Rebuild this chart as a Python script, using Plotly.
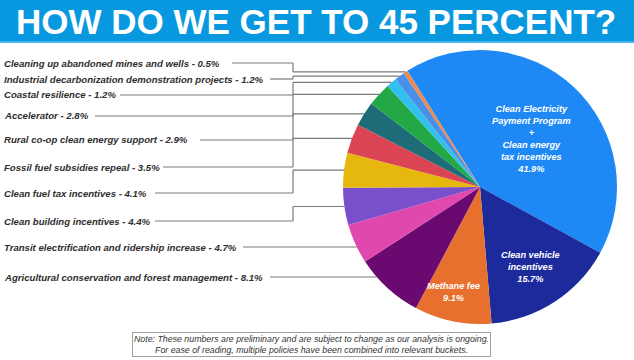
import math
import plotly.graph_objects as go

W, H = 634, 360

# ---------------- data ----------------
labels = [
    "Clean Electricity Payment Program + Clean energy tax incentives",
    "Clean vehicle incentives",
    "Methane fee",
    "Agricultural conservation and forest management",
    "Transit electrification and ridership increase",
    "Clean building incentives",
    "Clean fuel tax incentives",
    "Fossil fuel subsidies repeal",
    "Rural co-op clean energy support",
    "Accelerator",
    "Coastal resilience",
    "Industrial decarbonization demonstration projects",
    "Cleaning up abandoned mines and wells",
]
values = [41.9, 15.7, 9.1, 8.1, 4.7, 4.4, 4.1, 3.5, 2.9, 2.8, 1.2, 1.2, 0.5]
inside_labels = {
    0: "Clean Electricity<br>Payment Program<br>+<br>Clean energy<br>tax incentives<br>41.9%",
    1: "Clean vehicle<br>incentives<br>15.7%",
    2: "Methane fee<br>9.1%",
}

# ---------------- styles ----------------
colors = ["#1E89F4", "#1C2A9C", "#E8702F", "#6A0A70", "#E048AD", "#7A4FCB",
          "#E6B70C", "#DB4453", "#1D6C77", "#22A845", "#32C0F0", "#4A8FE8", "#E98B50"]
FONT = "Liberation Sans, Arial, sans-serif"

# pie geometry in pixels
CX, CY, R = 480, 187, 137
ROT = -32

def px(x):
    return x / W

def py(y):
    return 1 - y / H

# left label layout (top -> bottom, slice indices 12..3)
left_idx = [12, 11, 10, 9, 8, 7, 6, 5, 4, 3]
label_y = [63, 79, 95, 116, 140, 167, 193, 221, 247, 277]
line_x0 = [232, 270, 120, 95, 200, 163, 155, 155, 243, 270]
ELBOW_X = 293
# inside label positions (pixels)
inside_pos = {0: (531, 139), 1: (530, 267), 2: (453, 292)}

fig = go.Figure()
fig.add_trace(go.Pie(
    labels=labels, values=values, sort=False, direction="clockwise",
    rotation=ROT, textinfo="none", hoverinfo="label+value",
    marker=dict(colors=colors, line=dict(width=0)),
    domain=dict(x=[px(CX - R), px(CX + R)], y=[py(CY + R), py(CY - R)]),
    showlegend=False,
))

shapes = []
annotations = []

# banner
shapes.append(dict(type="rect", xref="paper", yref="paper", x0=0, x1=1,
                   y0=py(43), y1=1, fillcolor="#0898DF", line=dict(width=0), layer="below"))
shapes.append(dict(type="rect", xref="paper", yref="paper", x0=0, x1=1,
                   y0=py(43), y1=py(41), fillcolor="#45B3EE", line=dict(width=0), layer="below"))
annotations.append(dict(text="<b>HOW DO WE GET TO 45 PERCENT?</b>", x=0.498, y=py(21),
                        xref="paper", yref="paper", showarrow=False, xanchor="center",
                        yanchor="middle", font=dict(family=FONT, size=35, color="white")))

# slice angles
total = sum(values)
starts, ends = [], []
cum = 0
for v in values:
    starts.append(ROT + 360 * cum / total)
    cum += v
    ends.append(ROT + 360 * cum / total)

def seg(x0, y0, x1, y1):
    shapes.append(dict(type="line", xref="paper", yref="paper",
                       x0=px(x0), y0=py(y0), x1=px(x1), y1=py(y1),
                       line=dict(color="#7A7A7A", width=1.2)))

for k, i in enumerate(left_idx):
    ly = label_y[k]
    annotations.append(dict(
        text="<b><i>%s - %.1f%%</i></b>" % (labels[i], values[i]),
        x=px(2), y=py(ly), xref="paper", yref="paper", showarrow=False,
        xanchor="left", yanchor="middle", font=dict(family=FONT, size=9.6, color="#2E2E2E")))
    s, e = starts[i], ends[i]
    span = e - s
    mid = math.radians((s + e) / 2)
    mx = CX + R * math.sin(mid)
    my = CY - R * math.cos(mid)
    straight = False
    if abs(ly - CY) < R and abs(ly - my) < 13:
        ex = CX - math.sqrt(R ** 2 - (ly - CY) ** 2)
        th = math.degrees(math.atan2(ex - CX, -(ly - CY))) % 360
        if s + 0.12 * span <= th <= e - 0.12 * span:
            straight = True
            seg(line_x0[k], ly, ex, ly)
    if not straight:
        seg(line_x0[k], ly, ELBOW_X, ly)
        seg(ELBOW_X, ly, ELBOW_X, my)
        seg(ELBOW_X, my, mx, my)

for i, txt in inside_labels.items():
    x, y = inside_pos[i]
    annotations.append(dict(text="<b><i>%s</i></b>" % txt, x=px(x), y=py(y),
                            xref="paper", yref="paper", showarrow=False,
                            xanchor="center", yanchor="middle",
                            font=dict(family=FONT, size=9.2, color="white")))

# note box
annotations.append(dict(
    text="<i>Note: These numbers are preliminary and are subject to change as our analysis is ongoing.<br>"
         "For ease of reading, multiple policies have been combined into relevant buckets.</i>",
    x=px(311.5), y=py(344.5), xref="paper", yref="paper", showarrow=False,
    xanchor="center", yanchor="middle", align="center",
    bordercolor="#A0A0A0", borderwidth=1, borderpad=1,
    font=dict(family=FONT, size=8.8, color="#333333")))

fig.update_layout(
    width=W, height=H, margin=dict(l=0, r=0, t=0, b=0),
    paper_bgcolor="white", plot_bgcolor="white",
    shapes=shapes, annotations=annotations,
)
fig.write_html("out.html", config={"displayModeBar": False},
               post_script="document.body.style.margin='0px';")
